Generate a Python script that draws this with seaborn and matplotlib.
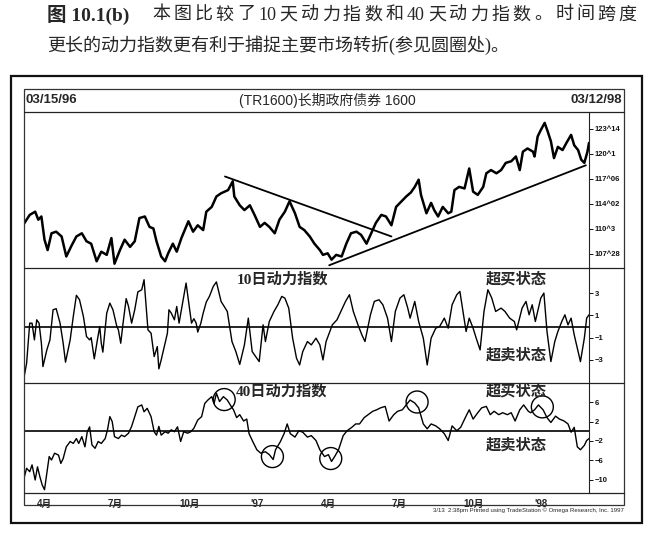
import pandas as pd
import matplotlib
matplotlib.use("Agg")
import matplotlib.pyplot as plt
import matplotlib.dates as mdates
from matplotlib.ticker import FuncFormatter, FixedLocator
from matplotlib.patches import Rectangle
from matplotlib.lines import Line2D
import seaborn as sns

sns.set_style("white")
plt.rcParams['font.family'] = ['Liberation Sans', 'Noto Sans CJK SC']

# ---- data (x = days since 03/15/96) ----
start = pd.Timestamp("1996-03-15")
end = pd.Timestamp("1998-03-12")

price_day = [0, 8, 15, 19, 23, 27, 31, 36, 42, 49, 55, 62, 68, 75, 81, 87, 94, 100, 107, 113,
             117, 124, 130, 137, 143, 149, 156, 162, 167, 171, 177, 182, 186, 192, 197, 203, 212, 218, 224, 231,
             235, 242, 248, 254, 263, 269, 271, 278, 284, 291, 297, 304, 310, 316, 323, 329, 336, 342, 349, 355,
             361, 368, 374, 381, 385, 391, 396, 402, 409, 415, 421, 428, 434, 441, 447, 453, 460, 466, 473, 479,
             486, 492, 498, 503, 508, 511, 518, 524, 528, 533, 539, 546, 550, 554, 560, 567, 573, 578, 584, 591,
             595, 601, 608, 614, 620, 627, 633, 638, 642, 648, 655, 657, 661, 665, 670, 674, 678, 682, 687, 693,
             698, 704, 708, 713, 717, 721, 725, 727]
price_val = [111.5, 112.7, 113.1, 112.1, 112.5, 109.6, 108.3, 110.4, 110.6, 110.0, 107.5, 108.9, 110.0, 110.4, 109.4, 109.1, 106.9, 108.1, 107.7, 109.8,
             106.6, 108.3, 109.6, 108.7, 109.4, 112.3, 112.5, 111.2, 111.0, 109.4, 107.5, 106.9, 107.9, 109.1, 108.1, 109.8, 111.9, 110.6, 111.4, 110.8,
             113.1, 113.7, 115.0, 115.4, 115.8, 116.9, 115.0, 113.9, 113.3, 113.9, 112.7, 111.2, 111.7, 111.2, 110.4, 112.1, 113.1, 114.4, 112.9, 111.2,
             110.8, 110.0, 109.1, 108.3, 107.7, 107.9, 107.1, 107.7, 107.5, 109.1, 110.4, 110.6, 110.2, 109.1, 110.4, 111.7, 112.7, 112.5, 111.4, 113.7,
             114.4, 115.0, 115.5, 116.2, 117.1, 115.2, 112.9, 114.2, 113.3, 112.5, 113.7, 112.9, 113.1, 115.8, 116.2, 116.0, 118.5, 115.6, 115.2, 116.2,
             117.9, 118.3, 117.9, 118.3, 119.2, 119.4, 120.0, 118.3, 120.6, 121.0, 120.6, 120.0, 122.5, 123.3, 124.2, 123.1, 121.9, 119.8, 121.2, 120.8,
             121.7, 122.7, 121.4, 120.8, 119.6, 119.2, 120.6, 121.7]

mom10_day = [0, 4, 8, 11, 14, 17, 20, 23, 25, 30, 34, 38, 42, 47, 51, 54, 60, 64, 68, 72,
             77, 81, 85, 87, 91, 95, 98, 100, 102, 107, 111, 115, 120, 122, 125, 128, 132, 135, 139, 143,
             147, 152, 155, 158, 160, 164, 168, 172, 174, 177, 182, 185, 187, 190, 194, 197, 200, 203, 206, 209,
             213, 216, 219, 222, 224, 228, 231, 235, 239, 244, 248, 254, 262, 268, 273, 278, 284, 289, 294, 297,
             303, 308, 311, 316, 322, 327, 332, 336, 341, 346, 351, 355, 359, 365, 370, 376, 381, 385, 389, 397,
             403, 408, 414, 419, 424, 430, 435, 439, 446, 451, 457, 462, 468, 473, 478, 484, 489, 494, 497, 503,
             508, 514, 519, 524, 530, 535, 541, 546, 551, 557, 561, 565, 569, 573, 578, 582, 587, 592, 597, 602,
             607, 614, 619, 625, 631, 634, 641, 646, 650, 654, 658, 665, 669, 673, 678, 683, 687, 692, 696, 700,
             704, 708, 712, 716, 721, 724, 727]
mom10_val = [-4.8, -3.3, 0.3, 0.3, -1.2, 0.6, 0.3, -1.5, -3.6, -2.1, -1.2, 1.5, 1.6, 0.3, -1.5, -3.2, -1.2, 0.9, 2.8, 2.4,
             0.9, -0.9, -1.2, -1.0, -2.9, -1.2, 0.0, -1.5, -2.3, 1.2, 2.1, 1.5, 0.0, -0.3, -1.5, 0.3, 2.5, 1.8, 0.3, 1.5,
             3.1, 3.3, 4.2, 1.5, -0.3, -0.6, -2.7, -1.8, -3.8, -3.0, -1.5, -0.6, 1.5, 1.2, 0.6, 1.8, 0.3, 1.5, 2.7, 3.9,
             1.8, 0.3, 0.7, 0.3, -0.5, 0.3, 1.2, 2.2, 2.7, 3.6, 4.0, 2.25, 1.35, -1.35, -2.25, -3.4, -1.65, 0.75, -2.25, -2.55,
             -3.15, 0.15, -1.35, 0.45, 1.35, 1.95, 2.7, 2.55, 1.65, -1.05, -2.85, -3.45, -2.25, -1.35, -1.65, -1.05, -1.65, -3.0, -1.35, 0.15,
             0.6, 1.35, 2.25, 2.85, 1.35, 0.15, -0.75, -1.35, 1.05, 2.25, 2.4, 1.95, 0.75, -1.35, 1.35, 2.55, 2.85, 1.65, 0.75, 2.25,
             0.45, -1.05, -3.45, -1.05, -0.15, 0.0, 0.75, -0.15, 1.95, 2.85, 3.15, 1.35, -0.45, 0.75, -0.15, -1.05, -2.1, 1.35, 3.3, 2.55,
             1.35, 1.65, 1.35, 0.75, 0.45, -0.3, 1.65, 2.25, 1.05, 1.95, 0.45, 2.55, 3.0, -0.45, -3.15, -1.35, -0.45, 0.45, 1.05, 0.15,
             0.75, -0.75, -1.95, -3.15, -1.05, 0.75, 1.05]

mom40_day = [0, 4, 8, 11, 15, 18, 21, 24, 27, 30, 33, 36, 40, 45, 48, 51, 55, 60, 64, 68,
             71, 75, 79, 82, 85, 88, 92, 96, 100, 105, 108, 111, 114, 117, 122, 126, 130, 135, 139, 143,
             147, 152, 155, 159, 164, 168, 171, 174, 177, 182, 186, 190, 194, 198, 202, 206, 211, 215, 219, 224,
             229, 233, 237, 242, 245, 248, 252, 257, 262, 267, 270, 274, 278, 283, 287, 290, 295, 300, 305, 311,
             316, 321, 324, 330, 335, 339, 343, 349, 354, 359, 365, 370, 376, 381, 387, 392, 396, 400, 405, 411,
             416, 422, 427, 432, 438, 443, 449, 454, 459, 465, 470, 476, 481, 487, 492, 497, 503, 508, 514, 519,
             524, 530, 535, 541, 546, 551, 557, 562, 568, 573, 578, 584, 589, 595, 600, 605, 611, 616, 622, 627,
             632, 638, 643, 649, 652, 657, 662, 668, 673, 678, 684, 689, 695, 700, 704, 708, 712, 716, 721, 724,
             727]
mom40_val = [-10.0, -7.6, -8.3, -6.9, -10.0, -7.3, -9.3, -11.0, -12.0, -8.6, -5.2, -5.9, -4.5, -4.9, -6.6, -5.6, -3.2, -2.1, -2.5, -1.5,
             -2.5, -1.1, -3.2, -0.1, 0.9, -2.8, -3.5, -2.1, -2.5, -1.5, 0.3, 3.0, 2.0, -1.1, -1.5, -0.8, -1.1, -0.4, 1.0, 3.0,
             5.0, 5.4, 4.0, 4.7, 3.0, -0.1, -0.8, 1.0, -0.8, -0.1, -0.4, 0.3, -0.1, 0.9, -2.1, -0.1, -0.4, -0.1, 0.6, 2.3,
             3.0, 5.7, 6.4, 7.1, 5.7, 7.8, 6.1, 7.1, 6.4, 5.1, 4.4, 2.8, 3.4, 2.1, 2.5, -0.5, -2.2, -3.8, -4.5, -4.2,
             -4.8, -5.8, -3.8, -2.2, -0.5, 1.5, -0.5, -1.2, 0.1, -0.2, -1.2, -0.9, -1.9, -3.8, -5.2, -4.8, -6.2, -5.2, -3.8, -0.9,
             0.1, 0.8, 1.5, 1.5, 2.8, 3.4, 4.1, 4.4, 4.8, 5.1, 2.1, 3.4, 4.1, 4.4, 5.4, 6.4, 5.8, 4.8, 1.5, 0.5,
             1.5, 1.1, 0.5, -0.5, -1.9, 1.1, 0.1, 0.8, 2.8, 4.4, 2.5, 3.8, 4.8, 5.1, 3.4, 4.1, 3.4, 3.8, 3.4, 3.8,
             2.1, 4.4, 5.4, 4.1, 3.8, 4.4, 5.4, 4.4, 2.8, 1.8, 3.1, 2.5, 2.1, 1.5, -0.2, 0.8, -3.2, -3.8, -2.9, -1.9,
             -1.5]

# trend lines on the price panel
down_trend_day = [259, 473]
down_trend_val = [117.5, 110.0]
up_trend_day = [393, 723]
up_trend_val = [106.4, 118.9]

# circled turning points on the 40-day momentum
circle_day = [258, 320, 395, 506, 667]
circle_val = [6.5, -5.2, -5.6, 6.0, 5.0]

price_ticks = [123.4375, 120.3125, 117.1875, 114.0625, 110.9375, 107.8125]
price_tick_labels = ["123^14", "120^1", "117^06", "114^02", "110^3", "107^28"]
mom10_ticks = [3, 1, -1, -3]
mom40_ticks = [6, 2, -2, -6, -10]

caption_head = "图 10.1(b)"
caption_line1 = list("本图比较了") + ["10"] + list("天动力指数和") + ["40"] + list("天动力指数。时间跨度")
caption_line2 = "更长的动力指数更有利于捕捉主要市场转折(参见圆圈处)。"


def to_dates(days):
    return start + pd.to_timedelta(days, unit="D")


# ---- layout (pixels of a 658x534 image) ----
W, H = 658, 534
fig = plt.figure(figsize=(W / 100, H / 100), dpi=100)
fig.patch.set_facecolor("white")


def rect(x0, y0, x1, y1):
    return [x0 / W, 1 - y1 / H, (x1 - x0) / W, (y1 - y0) / H]


def hline(y, x0, x1, lw=0.9, color="#222222"):
    fig.add_artist(Line2D([x0 / W, x1 / W], [1 - y / H, 1 - y / H],
                          transform=fig.transFigure, lw=lw, color=color))


PX0, PX1, FR = 23.5, 589, 624

ax_p = fig.add_axes(rect(PX0, 112, PX1, 268))
ax_10 = fig.add_axes(rect(PX0, 268, PX1, 383))
ax_40 = fig.add_axes(rect(PX0, 383, PX1, 493))

sns.lineplot(x=to_dates(price_day), y=price_val, ax=ax_p, color="black", linewidth=1.8, estimator=None)
ax_p.plot(to_dates(down_trend_day), down_trend_val, color="black", lw=1.3)
ax_p.plot(to_dates(up_trend_day), up_trend_val, color="black", lw=1.3)
ax_p.set_ylim(106.06, 125.56)
ax_p.yaxis.set_major_locator(FixedLocator(price_ticks))
ax_p.set_yticklabels(price_tick_labels)

sns.lineplot(x=to_dates(mom10_day), y=mom10_val, ax=ax_10, color="black", linewidth=1.0, estimator=None)
ax_10.axhline(0, color="black", lw=1.2)
ax_10.set_ylim(-5.07, 5.25)
ax_10.set_yticks(mom10_ticks)

sns.lineplot(x=to_dates(mom40_day), y=mom40_val, ax=ax_40, color="black", linewidth=1.0, estimator=None)
ax_40.axhline(0, color="black", lw=1.2)
ax_40.scatter(to_dates(circle_day), circle_val, s=250, facecolors="none",
              edgecolors="black", linewidths=1.0, zorder=5)
ax_40.set_ylim(-12.67, 9.9)
ax_40.set_yticks(mom40_ticks)

for ax in (ax_p, ax_10, ax_40):
    ax.set_xlim(start, end)
    ax.set_xlabel("")
    ax.set_ylabel("")
    ax.set_facecolor("none")
    for s in ("top", "left", "bottom"):
        ax.spines[s].set_visible(False)
    ax.spines["right"].set_linewidth(0.8)
    ax.spines["right"].set_color("#222222")
    ax.yaxis.tick_right()
    ax.tick_params(axis="y", direction="out", length=3, width=0.7, pad=1,
                   labelsize=5.5, colors="#111111")
    for lbl in ax.get_yticklabels():
        lbl.set_fontweight("bold")
    if ax is not ax_40:
        ax.set_xticks([])


def month_label(v, pos):
    d = mdates.num2date(v)
    if d.month == 1:
        return "'" + str(d.year)[2:]
    if d.month in (4, 7, 10):
        return f"{d.month}月"
    return ""


ax_40.xaxis.set_major_locator(mdates.MonthLocator())
ax_40.xaxis.set_major_formatter(FuncFormatter(month_label))
ax_40.xaxis.set_minor_locator(mdates.WeekdayLocator(byweekday=mdates.FR))
ax_40.tick_params(axis="x", which="major", direction="out", length=3.5, width=0.7,
                  pad=0.5, labelsize=7)
ax_40.tick_params(axis="x", which="minor", direction="out", length=2, width=0.6)
for lbl in ax_40.get_xticklabels():
    lbl.set_ha("left")
    lbl.set_fontweight("bold")

# frames and panel dividers
fig.add_artist(Rectangle((11 / W, 1 - 523 / H), (642 - 11) / W, (523 - 76) / H,
                         transform=fig.transFigure, fill=False, lw=1.6, ec="#111111"))
fig.add_artist(Rectangle((PX0 / W, 1 - 505 / H), (FR - PX0) / W, (505 - 89) / H,
                         transform=fig.transFigure, fill=False, lw=0.9, ec="#333333"))
for y in (112, 268, 383, 493):
    hline(y, PX0, FR)

# caption (the first line is justified in the book: spread tokens evenly)
serif_cjk = ["Liberation Serif", "Noto Sans CJK SC"]
cap = dict(va="center", fontsize=13, family=serif_cjk)
fig.text(47 / W, 1 - 15 / H, caption_head, ha="left", fontweight="bold",
         **{**cap, "fontsize": 14})
x0, x1 = 152, 640
step = (x1 - x0) / len(caption_line1)
for i, tok in enumerate(caption_line1):
    fig.text((x0 + i * step) / W, 1 - 15 / H, tok, ha="left", **cap)
fig.text(47 / W, 1 - 45 / H, caption_line2, ha="left", **cap)

# header row
fig.text(25 / W, 1 - 100 / H, "03/15/96", ha="left", va="center", fontsize=9.5, fontweight="bold")
fig.text(327 / W, 1 - 100 / H, "(TR1600)长期政府债券 1600", ha="center", va="center", fontsize=10)
fig.text(622 / W, 1 - 100 / H, "03/12/98", ha="right", va="center", fontsize=9.5, fontweight="bold")

# panel notes
note = dict(ha="center", va="center", fontsize=11, fontweight="bold",
            family=["Liberation Serif", "Noto Sans CJK SC"])
fig.text(283 / W, 1 - 279 / H, "10日动力指数", **note)
fig.text(516 / W, 1 - 279 / H, "超买状态", **note)
fig.text(516 / W, 1 - 355 / H, "超卖状态", **note)
fig.text(282 / W, 1 - 391 / H, "40日动力指数", **note)
fig.text(516 / W, 1 - 391 / H, "超买状态", **note)
fig.text(516 / W, 1 - 445 / H, "超卖状态", **note)

fig.text(624 / W, 1 - 510 / H, "3/13  2:38pm Printed using TradeStation © Omega Research, Inc. 1997",
         ha="right", va="center", fontsize=4.3)

fig.savefig("out.png", dpi=100)
